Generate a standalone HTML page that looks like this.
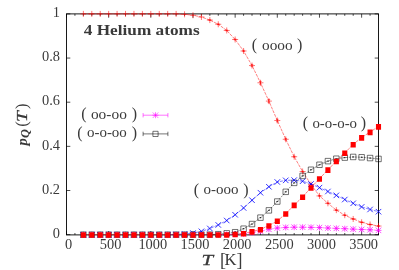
<!DOCTYPE html>
<html><head><meta charset="utf-8"><style>
html,body{margin:0;padding:0;background:#fff;}
svg{display:block;}
text{font-family:"Liberation Serif",serif;fill:#3a3a3a;}
</style></head><body>
<svg width="399" height="270" viewBox="0 0 399 270">
<rect width="399" height="270" fill="#fff"/>
<rect x="66.50" y="13.90" width="312.00" height="221.00" fill="none" stroke="#000" stroke-width="0.9"/>
<path d="M66.50 234.90v-3.8M66.50 13.90v3.8M74.93 234.90v-1.9M74.93 13.90v1.9M83.36 234.90v-1.9M83.36 13.90v1.9M91.80 234.90v-1.9M91.80 13.90v1.9M100.23 234.90v-1.9M100.23 13.90v1.9M108.66 234.90v-3.8M108.66 13.90v3.8M117.09 234.90v-1.9M117.09 13.90v1.9M125.53 234.90v-1.9M125.53 13.90v1.9M133.96 234.90v-1.9M133.96 13.90v1.9M142.39 234.90v-1.9M142.39 13.90v1.9M150.82 234.90v-3.8M150.82 13.90v3.8M159.26 234.90v-1.9M159.26 13.90v1.9M167.69 234.90v-1.9M167.69 13.90v1.9M176.12 234.90v-1.9M176.12 13.90v1.9M184.55 234.90v-1.9M184.55 13.90v1.9M192.99 234.90v-3.8M192.99 13.90v3.8M201.42 234.90v-1.9M201.42 13.90v1.9M209.85 234.90v-1.9M209.85 13.90v1.9M218.28 234.90v-1.9M218.28 13.90v1.9M226.72 234.90v-1.9M226.72 13.90v1.9M235.15 234.90v-3.8M235.15 13.90v3.8M243.58 234.90v-1.9M243.58 13.90v1.9M252.01 234.90v-1.9M252.01 13.90v1.9M260.45 234.90v-1.9M260.45 13.90v1.9M268.88 234.90v-1.9M268.88 13.90v1.9M277.31 234.90v-3.8M277.31 13.90v3.8M285.74 234.90v-1.9M285.74 13.90v1.9M294.18 234.90v-1.9M294.18 13.90v1.9M302.61 234.90v-1.9M302.61 13.90v1.9M311.04 234.90v-1.9M311.04 13.90v1.9M319.47 234.90v-3.8M319.47 13.90v3.8M327.91 234.90v-1.9M327.91 13.90v1.9M336.34 234.90v-1.9M336.34 13.90v1.9M344.77 234.90v-1.9M344.77 13.90v1.9M353.20 234.90v-1.9M353.20 13.90v1.9M361.64 234.90v-3.8M361.64 13.90v3.8M370.07 234.90v-1.9M370.07 13.90v1.9M378.50 234.90v-1.9M378.50 13.90v1.9M66.50 234.65h3.8M378.50 234.65h-3.8M66.50 190.50h3.8M378.50 190.50h-3.8M66.50 146.35h3.8M378.50 146.35h-3.8M66.50 102.20h3.8M378.50 102.20h-3.8M66.50 58.05h3.8M378.50 58.05h-3.8M66.50 13.90h3.8M378.50 13.90h-3.8" stroke="#000" stroke-width="0.7" fill="none"/>
<polyline points="83.36,13.90 91.80,13.90 100.23,13.90 108.66,13.90 117.09,13.90 125.53,13.90 133.96,13.90 142.39,13.90 150.82,13.90 159.26,13.90 167.69,13.90 176.12,13.90 184.55,14.34 192.99,15.22 201.42,16.99 209.85,20.08 218.28,24.28 226.72,30.46 235.15,39.51 243.58,50.99 252.01,65.56 260.45,82.77 268.88,101.10 277.31,120.52 285.74,139.29 294.18,156.73 302.61,171.52 311.04,184.54 319.47,195.91 327.91,203.30 336.34,210.15 344.77,215.22 353.20,218.98 361.64,222.29 370.07,224.50 378.50,226.04" fill="none" stroke="#ff0000" stroke-width="0.5" stroke-dasharray="3 1"/>
<path d="M80.36 13.90h6.0M83.36 10.90v6.0M88.80 13.90h6.0M91.80 10.90v6.0M97.23 13.90h6.0M100.23 10.90v6.0M105.66 13.90h6.0M108.66 10.90v6.0M114.09 13.90h6.0M117.09 10.90v6.0M122.53 13.90h6.0M125.53 10.90v6.0M130.96 13.90h6.0M133.96 10.90v6.0M139.39 13.90h6.0M142.39 10.90v6.0M147.82 13.90h6.0M150.82 10.90v6.0M156.26 13.90h6.0M159.26 10.90v6.0M164.69 13.90h6.0M167.69 10.90v6.0M173.12 13.90h6.0M176.12 10.90v6.0M181.55 14.34h6.0M184.55 11.34v6.0M189.99 15.22h6.0M192.99 12.22v6.0M198.42 16.99h6.0M201.42 13.99v6.0M206.85 20.08h6.0M209.85 17.08v6.0M209.85 19.73v0.7003837374141526M208.55 19.73h2.6M208.55 20.43h2.6M215.28 24.28h6.0M218.28 21.28v6.0M218.28 23.92v0.7041539337397261M216.98 23.92h2.6M216.98 24.63h2.6M223.72 30.46h6.0M226.72 27.46v6.0M226.72 30.09v0.730809913118941M225.42 30.09h2.6M225.42 30.82h2.6M232.15 39.51h6.0M235.15 36.51v6.0M235.15 39.08v0.856576604742762M233.85 39.08h2.6M233.85 39.94h2.6M240.58 50.99h6.0M243.58 47.99v6.0M243.58 50.36v1.245216208280163M242.28 50.36h2.6M242.28 51.61h2.6M249.01 65.56h6.0M252.01 62.56v6.0M252.01 64.56v2.000816789575699M250.71 64.56h2.6M250.71 66.56h2.6M257.45 82.77h6.0M260.45 79.77v6.0M260.45 81.36v2.826517681654906M259.15 81.36h2.6M259.15 84.19h2.6M265.88 101.10h6.0M268.88 98.10v6.0M268.88 99.56v3.081920989769718M267.58 99.56h2.6M267.58 102.64h2.6M274.31 120.52h6.0M277.31 117.52v6.0M277.31 119.26v2.528063147696524M276.01 119.26h2.6M276.01 121.79h2.6M282.74 139.29h6.0M285.74 136.29v6.0M285.74 138.46v1.6613035028251162M284.44 138.46h2.6M284.44 140.12h2.6M291.18 156.73h6.0M294.18 153.73v6.0M294.18 156.20v1.0463660722554848M292.88 156.20h2.6M292.88 157.25h2.6M299.61 171.52h6.0M302.61 168.52v6.0M302.61 171.12v0.7855097533372987M301.31 171.12h2.6M301.31 171.91h2.6M308.04 184.54h6.0M311.04 181.54v6.0M311.04 184.18v0.714464434241254M309.74 184.18h2.6M309.74 184.90h2.6M316.47 195.91h6.0M319.47 192.91v6.0M319.47 195.56v0.7016764582333557M318.17 195.56h2.6M318.17 196.26h2.6M324.91 203.30h6.0M327.91 200.30v6.0M327.91 202.95v0.7001331341634006M326.61 202.95h2.6M326.61 203.65h2.6M333.34 210.15h6.0M336.34 207.15v6.0M336.34 209.80v0.7000072442224524M335.04 209.80h2.6M335.04 210.50h2.6M341.77 215.22h6.0M344.77 212.22v6.0M344.77 214.87v0.7000002700844192M343.47 214.87h2.6M343.47 215.57h2.6M350.20 218.98h6.0M353.20 215.98v6.0M353.20 218.63v0.700000006899423M351.90 218.63h2.6M351.90 219.33h2.6M358.64 222.29h6.0M361.64 219.29v6.0M361.64 221.94v0.7000000001207622M360.34 221.94h2.6M360.34 222.64h2.6M367.07 224.50h6.0M370.07 221.50v6.0M370.07 224.15v0.7000000000014482M368.77 224.15h2.6M368.77 224.85h2.6M375.50 226.04h6.0M378.50 223.04v6.0M378.50 225.69v0.7000000000000118M377.20 225.69h2.6M377.20 226.39h2.6" stroke="#ff0000" stroke-width="0.55" fill="none"/>
<polyline points="218.28,234.65 226.72,234.43 235.15,234.21 243.58,233.77 252.01,232.66 260.45,231.12 268.88,229.35 277.31,228.03 285.74,227.43 294.18,227.23 302.61,227.23 311.04,227.37 319.47,227.59 327.91,228.03 336.34,228.36 344.77,228.69 353.20,229.13 361.64,229.46 370.07,229.79 378.50,230.35" fill="none" stroke="#ff00ff" stroke-width="0.5" stroke-dasharray="2 1"/>
<path d="M80.36 234.65h6.0M83.36 231.65v6.0M80.61 231.90l5.5 5.5M80.61 237.40l5.5 -5.5M88.80 234.65h6.0M91.80 231.65v6.0M89.05 231.90l5.5 5.5M89.05 237.40l5.5 -5.5M97.23 234.65h6.0M100.23 231.65v6.0M97.48 231.90l5.5 5.5M97.48 237.40l5.5 -5.5M105.66 234.65h6.0M108.66 231.65v6.0M105.91 231.90l5.5 5.5M105.91 237.40l5.5 -5.5M114.09 234.65h6.0M117.09 231.65v6.0M114.34 231.90l5.5 5.5M114.34 237.40l5.5 -5.5M122.53 234.65h6.0M125.53 231.65v6.0M122.78 231.90l5.5 5.5M122.78 237.40l5.5 -5.5M130.96 234.65h6.0M133.96 231.65v6.0M131.21 231.90l5.5 5.5M131.21 237.40l5.5 -5.5M139.39 234.65h6.0M142.39 231.65v6.0M139.64 231.90l5.5 5.5M139.64 237.40l5.5 -5.5M147.82 234.65h6.0M150.82 231.65v6.0M148.07 231.90l5.5 5.5M148.07 237.40l5.5 -5.5M156.26 234.65h6.0M159.26 231.65v6.0M156.51 231.90l5.5 5.5M156.51 237.40l5.5 -5.5M164.69 234.65h6.0M167.69 231.65v6.0M164.94 231.90l5.5 5.5M164.94 237.40l5.5 -5.5M173.12 234.65h6.0M176.12 231.65v6.0M173.37 231.90l5.5 5.5M173.37 237.40l5.5 -5.5M181.55 234.65h6.0M184.55 231.65v6.0M181.80 231.90l5.5 5.5M181.80 237.40l5.5 -5.5M189.99 234.65h6.0M192.99 231.65v6.0M190.24 231.90l5.5 5.5M190.24 237.40l5.5 -5.5M198.42 234.65h6.0M201.42 231.65v6.0M198.67 231.90l5.5 5.5M198.67 237.40l5.5 -5.5M206.85 234.65h6.0M209.85 231.65v6.0M207.10 231.90l5.5 5.5M207.10 237.40l5.5 -5.5M215.28 234.65h6.0M218.28 231.65v6.0M215.53 231.90l5.5 5.5M215.53 237.40l5.5 -5.5M223.72 234.43h6.0M226.72 231.43v6.0M223.97 231.68l5.5 5.5M223.97 237.18l5.5 -5.5M232.15 234.21h6.0M235.15 231.21v6.0M232.40 231.46l5.5 5.5M232.40 236.96l5.5 -5.5M240.58 233.77h6.0M243.58 230.77v6.0M240.83 231.02l5.5 5.5M240.83 236.52l5.5 -5.5M249.01 232.66h6.0M252.01 229.66v6.0M249.26 229.91l5.5 5.5M249.26 235.41l5.5 -5.5M257.45 231.12h6.0M260.45 228.12v6.0M257.70 228.37l5.5 5.5M257.70 233.87l5.5 -5.5M265.88 229.35h6.0M268.88 226.35v6.0M266.13 226.60l5.5 5.5M266.13 232.10l5.5 -5.5M274.31 228.03h6.0M277.31 225.03v6.0M274.56 225.28l5.5 5.5M274.56 230.78l5.5 -5.5M282.74 227.43h6.0M285.74 224.43v6.0M282.99 224.68l5.5 5.5M282.99 230.18l5.5 -5.5M291.18 227.23h6.0M294.18 224.23v6.0M291.43 224.48l5.5 5.5M291.43 229.98l5.5 -5.5M299.61 227.23h6.0M302.61 224.23v6.0M299.86 224.48l5.5 5.5M299.86 229.98l5.5 -5.5M308.04 227.37h6.0M311.04 224.37v6.0M308.29 224.62l5.5 5.5M308.29 230.12l5.5 -5.5M316.47 227.59h6.0M319.47 224.59v6.0M316.72 224.84l5.5 5.5M316.72 230.34l5.5 -5.5M324.91 228.03h6.0M327.91 225.03v6.0M325.16 225.28l5.5 5.5M325.16 230.78l5.5 -5.5M333.34 228.36h6.0M336.34 225.36v6.0M333.59 225.61l5.5 5.5M333.59 231.11l5.5 -5.5M341.77 228.69h6.0M344.77 225.69v6.0M342.02 225.94l5.5 5.5M342.02 231.44l5.5 -5.5M350.20 229.13h6.0M353.20 226.13v6.0M350.45 226.38l5.5 5.5M350.45 231.88l5.5 -5.5M358.64 229.46h6.0M361.64 226.46v6.0M358.89 226.71l5.5 5.5M358.89 232.21l5.5 -5.5M367.07 229.79h6.0M370.07 226.79v6.0M367.32 227.04l5.5 5.5M367.32 232.54l5.5 -5.5M375.50 230.35h6.0M378.50 227.35v6.0M375.75 227.60l5.5 5.5M375.75 233.10l5.5 -5.5" stroke="#ff00ff" stroke-width="0.7" fill="none"/>
<polyline points="209.85,234.65 218.28,234.21 226.72,233.33 235.15,232.22 243.58,228.69 252.01,224.05 260.45,217.65 268.88,210.37 277.31,201.54 285.74,191.82 294.18,182.88 302.61,175.93 311.04,169.75 319.47,164.78 327.91,161.14 336.34,158.71 344.77,157.61 353.20,156.95 361.64,157.28 370.07,158.05 378.50,158.93" fill="none" stroke="#000" stroke-width="0.45" stroke-dasharray="2 1"/>
<path d="M80.61 231.90h5.5v5.5h-5.5zM89.05 231.90h5.5v5.5h-5.5zM97.48 231.90h5.5v5.5h-5.5zM105.91 231.90h5.5v5.5h-5.5zM114.34 231.90h5.5v5.5h-5.5zM122.78 231.90h5.5v5.5h-5.5zM131.21 231.90h5.5v5.5h-5.5zM139.64 231.90h5.5v5.5h-5.5zM148.07 231.90h5.5v5.5h-5.5zM156.51 231.90h5.5v5.5h-5.5zM164.94 231.90h5.5v5.5h-5.5zM173.37 231.90h5.5v5.5h-5.5zM181.80 231.90h5.5v5.5h-5.5zM190.24 231.90h5.5v5.5h-5.5zM198.67 231.90h5.5v5.5h-5.5zM207.10 231.90h5.5v5.5h-5.5zM215.53 231.46h5.5v5.5h-5.5zM223.97 230.58h5.5v5.5h-5.5zM225.62 233.33h2.2M226.72 232.73v1.2M232.40 229.47h5.5v5.5h-5.5zM234.05 232.22h2.2M235.15 231.62v1.2M240.83 225.94h5.5v5.5h-5.5zM242.48 228.69h2.2M243.58 228.09v1.2M249.26 221.30h5.5v5.5h-5.5zM250.91 224.05h2.2M252.01 223.45v1.2M257.70 214.90h5.5v5.5h-5.5zM259.35 217.65h2.2M260.45 217.05v1.2M266.13 207.62h5.5v5.5h-5.5zM267.78 210.37h2.2M268.88 209.77v1.2M274.56 198.79h5.5v5.5h-5.5zM276.21 201.54h2.2M277.31 200.94v1.2M282.99 189.07h5.5v5.5h-5.5zM284.64 191.82h2.2M285.74 191.22v1.2M291.43 180.13h5.5v5.5h-5.5zM293.08 182.88h2.2M294.18 182.28v1.2M299.86 173.18h5.5v5.5h-5.5zM301.51 175.93h2.2M302.61 175.33v1.2M308.29 167.00h5.5v5.5h-5.5zM309.94 169.75h2.2M311.04 169.15v1.2M316.72 162.03h5.5v5.5h-5.5zM318.37 164.78h2.2M319.47 164.18v1.2M325.16 158.39h5.5v5.5h-5.5zM326.81 161.14h2.2M327.91 160.54v1.2M333.59 155.96h5.5v5.5h-5.5zM335.24 158.71h2.2M336.34 158.11v1.2M342.02 154.86h5.5v5.5h-5.5zM343.67 157.61h2.2M344.77 157.01v1.2M350.45 154.20h5.5v5.5h-5.5zM352.10 156.95h2.2M353.20 156.35v1.2M358.89 154.53h5.5v5.5h-5.5zM360.54 157.28h2.2M361.64 156.68v1.2M367.32 155.30h5.5v5.5h-5.5zM368.97 158.05h2.2M370.07 157.45v1.2M375.75 156.18h5.5v5.5h-5.5zM377.40 158.93h2.2M378.50 158.33v1.2" stroke="#000" stroke-width="0.55" fill="none"/>
<polyline points="167.69,234.65 176.12,234.43 184.55,233.99 192.99,233.10 201.42,231.34 209.85,228.47 218.28,224.94 226.72,220.52 235.15,214.78 243.58,207.94 252.01,200.21 260.45,192.71 268.88,186.75 277.31,182.00 285.74,180.35 294.18,180.12 302.61,181.23 311.04,183.99 319.47,187.63 327.91,191.49 336.34,195.36 344.77,199.55 353.20,203.30 361.64,206.92 370.07,209.48 378.50,211.69" fill="none" stroke="#0000ff" stroke-width="0.5" stroke-dasharray="3 1"/>
<path d="M80.61 231.90l5.5 5.5M80.61 237.40l5.5 -5.5M89.05 231.90l5.5 5.5M89.05 237.40l5.5 -5.5M97.48 231.90l5.5 5.5M97.48 237.40l5.5 -5.5M105.91 231.90l5.5 5.5M105.91 237.40l5.5 -5.5M114.34 231.90l5.5 5.5M114.34 237.40l5.5 -5.5M122.78 231.90l5.5 5.5M122.78 237.40l5.5 -5.5M131.21 231.90l5.5 5.5M131.21 237.40l5.5 -5.5M139.64 231.90l5.5 5.5M139.64 237.40l5.5 -5.5M148.07 231.90l5.5 5.5M148.07 237.40l5.5 -5.5M156.51 231.90l5.5 5.5M156.51 237.40l5.5 -5.5M164.94 231.90l5.5 5.5M164.94 237.40l5.5 -5.5M173.37 231.68l5.5 5.5M173.37 237.18l5.5 -5.5M181.80 231.24l5.5 5.5M181.80 236.74l5.5 -5.5M190.24 230.35l5.5 5.5M190.24 235.85l5.5 -5.5M198.67 228.59l5.5 5.5M198.67 234.09l5.5 -5.5M207.10 225.72l5.5 5.5M207.10 231.22l5.5 -5.5M215.53 222.19l5.5 5.5M215.53 227.69l5.5 -5.5M223.97 217.77l5.5 5.5M223.97 223.27l5.5 -5.5M232.40 212.03l5.5 5.5M232.40 217.53l5.5 -5.5M240.83 205.19l5.5 5.5M240.83 210.69l5.5 -5.5M249.26 197.46l5.5 5.5M249.26 202.96l5.5 -5.5M257.70 189.96l5.5 5.5M257.70 195.46l5.5 -5.5M266.13 184.00l5.5 5.5M266.13 189.50l5.5 -5.5M274.56 179.25l5.5 5.5M274.56 184.75l5.5 -5.5M282.99 177.60l5.5 5.5M282.99 183.10l5.5 -5.5M291.43 177.37l5.5 5.5M291.43 182.87l5.5 -5.5M299.86 178.48l5.5 5.5M299.86 183.98l5.5 -5.5M308.29 181.24l5.5 5.5M308.29 186.74l5.5 -5.5M316.72 184.88l5.5 5.5M316.72 190.38l5.5 -5.5M325.16 188.74l5.5 5.5M325.16 194.24l5.5 -5.5M333.59 192.61l5.5 5.5M333.59 198.11l5.5 -5.5M342.02 196.80l5.5 5.5M342.02 202.30l5.5 -5.5M350.45 200.55l5.5 5.5M350.45 206.05l5.5 -5.5M358.89 204.17l5.5 5.5M358.89 209.67l5.5 -5.5M367.32 206.73l5.5 5.5M367.32 212.23l5.5 -5.5M375.75 208.94l5.5 5.5M375.75 214.44l5.5 -5.5" stroke="#0000ff" stroke-width="0.8" fill="none"/>
<polyline points="83.36,234.65 91.80,234.65 100.23,234.65 108.66,234.65 117.09,234.65 125.53,234.65 133.96,234.65 142.39,234.65 150.82,234.65 159.26,234.65 167.69,234.65 176.12,234.65 184.55,234.65 192.99,234.65 201.42,234.65 209.85,234.65 218.28,234.65 226.72,234.65 235.15,234.21 243.58,233.33 252.01,231.56 260.45,229.35 268.88,225.60 277.31,220.96 285.74,213.68 294.18,205.07 302.61,196.90 311.04,187.63 319.47,178.69 327.91,169.75 336.34,161.14 344.77,152.97 353.20,144.36 361.64,137.52 370.07,132.00 378.50,126.48" fill="none" stroke="#ff0000" stroke-width="0.5" stroke-dasharray="3 1"/>
<path d="M80.81 232.20h5.1v5.6h-5.1zM89.25 232.20h5.1v5.6h-5.1zM97.68 232.20h5.1v5.6h-5.1zM106.11 232.20h5.1v5.6h-5.1zM114.54 232.20h5.1v5.6h-5.1zM122.98 232.20h5.1v5.6h-5.1zM131.41 232.20h5.1v5.6h-5.1zM139.84 232.20h5.1v5.6h-5.1zM148.27 232.20h5.1v5.6h-5.1zM156.71 232.20h5.1v5.6h-5.1zM165.14 232.20h5.1v5.6h-5.1zM173.57 232.20h5.1v5.6h-5.1zM182.00 232.20h5.1v5.6h-5.1zM190.44 232.20h5.1v5.6h-5.1zM198.87 232.20h5.1v5.6h-5.1zM207.30 232.20h5.1v5.6h-5.1zM215.73 232.20h5.1v5.6h-5.1zM224.17 232.20h5.1v5.6h-5.1zM232.60 231.76h5.1v5.6h-5.1zM241.03 230.88h5.1v5.6h-5.1zM249.46 229.11h5.1v5.6h-5.1zM257.90 226.90h5.1v5.6h-5.1zM266.33 223.15h5.1v5.6h-5.1zM274.76 218.51h5.1v5.6h-5.1zM283.19 211.23h5.1v5.6h-5.1zM291.63 202.62h5.1v5.6h-5.1zM300.06 194.45h5.1v5.6h-5.1zM308.49 185.18h5.1v5.6h-5.1zM316.92 176.24h5.1v5.6h-5.1zM325.36 167.30h5.1v5.6h-5.1zM333.79 158.69h5.1v5.6h-5.1zM342.22 150.52h5.1v5.6h-5.1zM350.65 141.91h5.1v5.6h-5.1zM359.09 135.07h5.1v5.6h-5.1zM367.52 129.55h5.1v5.6h-5.1zM375.95 124.03h5.1v5.6h-5.1z" fill="#ff0000" stroke="none"/>
<path d="M143.10 115.20H167.90M143.10 113.00v4.4M167.90 113.00v4.4M152.50 115.20h6.0M155.50 112.20v6.0M152.75 112.45l5.5 5.5M152.75 117.95l5.5 -5.5" stroke="#ff00ff" stroke-width="0.55" fill="none"/>
<path d="M143.10 133.90H167.90M143.10 131.70v4.4M167.90 131.70v4.4M152.90 131.30h5.2v5.2h-5.2z" stroke="#000" stroke-width="0.55" fill="none"/>
<defs><filter id="gs" x="0" y="0" width="100%" height="100%" filterUnits="userSpaceOnUse" color-interpolation-filters="sRGB"><feColorMatrix type="saturate" values="0"/></filter></defs>
<g filter="url(#gs)">
<text x="60.00" y="237.85" text-anchor="end" font-size="14.4">0</text>
<text x="60.00" y="193.70" text-anchor="end" font-size="14.4">0.2</text>
<text x="60.00" y="149.55" text-anchor="end" font-size="14.4">0.4</text>
<text x="60.00" y="105.40" text-anchor="end" font-size="14.4">0.6</text>
<text x="60.00" y="61.25" text-anchor="end" font-size="14.4">0.8</text>
<text x="60.00" y="17.10" text-anchor="end" font-size="14.4">1</text>
<text x="68.50" y="249.30" text-anchor="middle" font-size="14.4">0</text>
<text x="110.66" y="249.30" text-anchor="middle" font-size="14.4">500</text>
<text x="152.82" y="249.30" text-anchor="middle" font-size="14.4">1000</text>
<text x="194.99" y="249.30" text-anchor="middle" font-size="14.4">1500</text>
<text x="237.15" y="249.30" text-anchor="middle" font-size="14.4">2000</text>
<text x="279.31" y="249.30" text-anchor="middle" font-size="14.4">2500</text>
<text x="321.47" y="249.30" text-anchor="middle" font-size="14.4">3000</text>
<text x="363.64" y="249.30" text-anchor="middle" font-size="14.4">3500</text>
<text x="83.80" y="35.30" text-anchor="start" font-size="14.2" font-weight="bold" fill="#262626" textLength="115.8" lengthAdjust="spacingAndGlyphs">4 Helium atoms</text>
<text transform="translate(201.54,264.7) scale(1.365,1)" font-size="15.3" font-style="italic" fill="#2c2c2c" stroke="#2c2c2c" stroke-width="0.25">T</text>
<text x="219.94" y="266.30" text-anchor="start" font-size="18">[</text>
<text x="236.52" y="266.30" text-anchor="start" font-size="18">]</text>
<text x="224.41" y="264.70" text-anchor="start" font-size="16.5">K</text>
<g transform="translate(26.8,146.6) rotate(-90)"><text x="1.0" y="0" font-size="14.6" font-weight="bold" font-style="italic" fill="#383838">p</text><text transform="translate(8.62,2.4) scale(1.07,1)" font-size="11.5" font-weight="bold" font-style="italic" fill="#383838">Q</text><text x="19.8" y="0.2" font-size="16.5">(</text><text transform="translate(24.64,0) scale(1.273,1)" font-size="15.3" font-style="italic" fill="#2c2c2c" stroke="#2c2c2c" stroke-width="0.25">T</text><text x="37.5" y="0.2" font-size="16.5">)</text></g>
<text x="251.86" y="50.20" text-anchor="start" font-size="16.0">(</text>
<text x="296.96" y="50.20" text-anchor="start" font-size="16.0">)</text>
<text x="262.02" y="50.00" text-anchor="start" font-size="14.4" textLength="30.65" lengthAdjust="spacingAndGlyphs">oooo</text>
<text x="81.26" y="119.00" text-anchor="start" font-size="16.0">(</text>
<text x="131.66" y="119.00" text-anchor="start" font-size="16.0">)</text>
<text x="90.92" y="118.80" text-anchor="start" font-size="14.4" textLength="35.95" lengthAdjust="spacingAndGlyphs">oo-oo</text>
<text x="77.26" y="137.60" text-anchor="start" font-size="16.0">(</text>
<text x="131.66" y="137.60" text-anchor="start" font-size="16.0">)</text>
<text x="86.92" y="137.40" text-anchor="start" font-size="14.4" textLength="39.95" lengthAdjust="spacingAndGlyphs">o-o-oo</text>
<text x="193.86" y="194.50" text-anchor="start" font-size="16.0">(</text>
<text x="243.36" y="194.50" text-anchor="start" font-size="16.0">)</text>
<text x="203.52" y="194.30" text-anchor="start" font-size="14.4" textLength="35.05" lengthAdjust="spacingAndGlyphs">o-ooo</text>
<text x="302.76" y="128.20" text-anchor="start" font-size="16.0">(</text>
<text x="360.66" y="128.20" text-anchor="start" font-size="16.0">)</text>
<text x="312.42" y="128.00" text-anchor="start" font-size="14.4" textLength="44.65" lengthAdjust="spacingAndGlyphs">o-o-o-o</text>
</g>
</svg>
</body></html>
